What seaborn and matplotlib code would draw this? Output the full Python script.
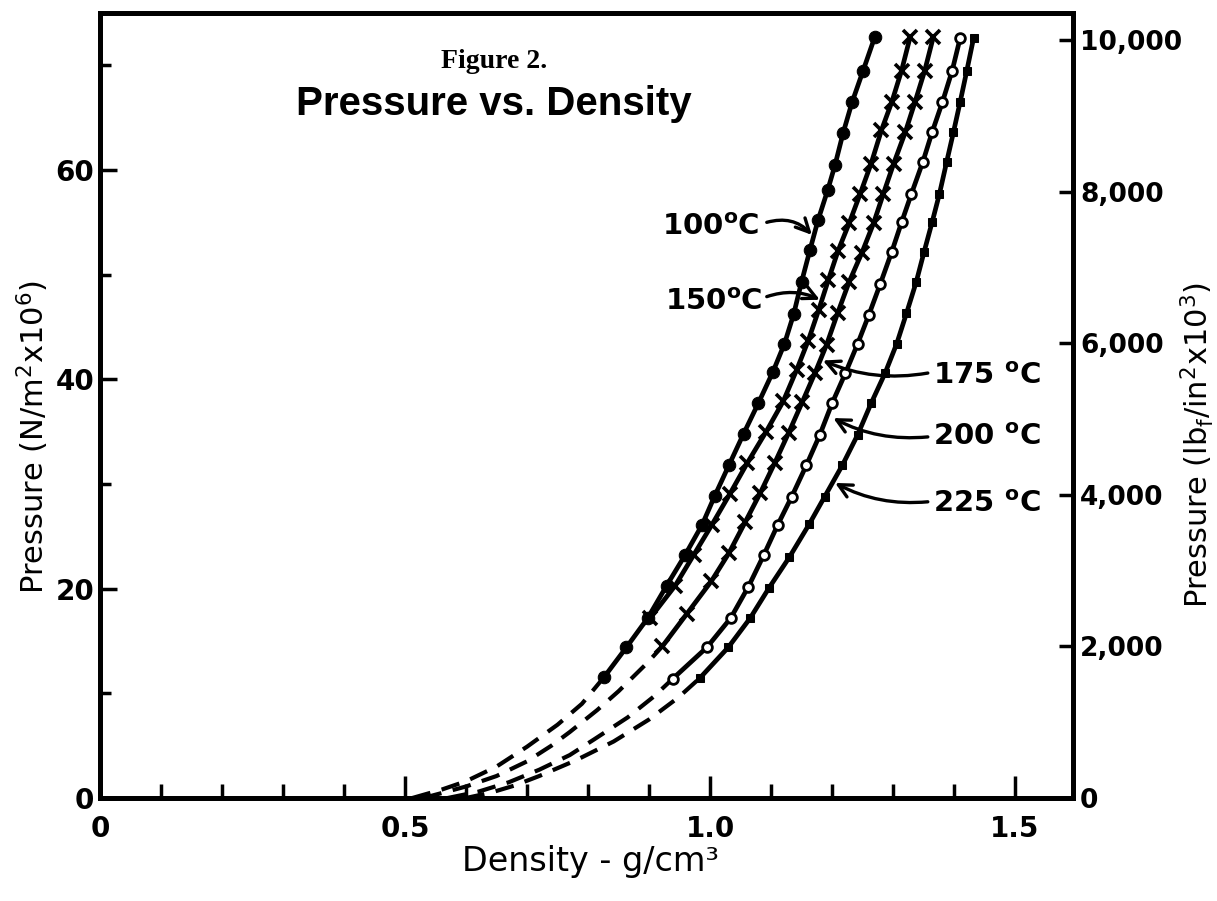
import matplotlib
matplotlib.use("Agg")
import matplotlib.pyplot as plt
import seaborn as sns
from matplotlib.ticker import MultipleLocator, FuncFormatter

# ----------------------------------------------------------
# Data (density g/cm3, pressure N/m2 x 1e6)
# ----------------------------------------------------------
dens_100 = [0.827, 0.863, 0.898, 0.929, 0.959, 0.987, 1.008, 1.031, 1.055, 1.079, 1.103,
            1.122, 1.137, 1.150, 1.164, 1.177, 1.193, 1.205, 1.218, 1.233, 1.251, 1.270]
pres_100 = [11.6, 14.4, 17.2, 20.3, 23.2, 26.1, 28.9, 31.8, 34.8, 37.7, 40.7,
            43.4, 46.2, 49.3, 52.4, 55.2, 58.1, 60.5, 63.5, 66.5, 69.5, 72.7]

dens_150 = [0.902, 0.943, 0.973, 1.003, 1.032, 1.061, 1.092, 1.120, 1.142, 1.161,
            1.178, 1.194, 1.210, 1.228, 1.246, 1.264, 1.281, 1.298, 1.314, 1.328]
pres_150 = [17.2, 20.3, 23.2, 26.1, 29.0, 32.0, 35.0, 37.9, 40.9, 43.7,
            46.6, 49.5, 52.3, 54.9, 57.7, 60.6, 63.8, 66.5, 69.5, 72.7]

dens_175 = [0.922, 0.962, 1.002, 1.031, 1.058, 1.082, 1.106, 1.129, 1.151, 1.172, 1.191,
            1.209, 1.228, 1.249, 1.268, 1.284, 1.301, 1.320, 1.336, 1.352, 1.366]
pres_175 = [14.5, 17.6, 20.7, 23.4, 26.4, 29.1, 32.0, 34.9, 37.8, 40.6, 43.3,
            46.3, 49.3, 52.1, 54.9, 57.7, 60.6, 63.6, 66.5, 69.5, 72.7]

dens_200 = [0.939, 0.995, 1.034, 1.063, 1.088, 1.111, 1.134, 1.158, 1.180, 1.200, 1.222,
            1.242, 1.260, 1.279, 1.298, 1.314, 1.330, 1.349, 1.364, 1.381, 1.397, 1.410]
pres_200 = [11.4, 14.4, 17.2, 20.2, 23.2, 26.1, 28.8, 31.8, 34.7, 37.7, 40.6,
            43.4, 46.1, 49.1, 52.2, 55.0, 57.7, 60.8, 63.6, 66.5, 69.5, 72.6]

dens_225 = [0.984, 1.030, 1.066, 1.097, 1.130, 1.163, 1.188, 1.217, 1.242, 1.264, 1.287,
            1.306, 1.322, 1.338, 1.351, 1.364, 1.376, 1.388, 1.399, 1.410, 1.421, 1.432]
pres_225 = [11.5, 14.4, 17.2, 20.1, 23.0, 26.2, 28.8, 31.8, 34.7, 37.7, 40.6,
            43.4, 46.3, 49.3, 52.2, 55.0, 57.7, 60.8, 63.6, 66.5, 69.5, 72.6]

# dashed (extrapolated) parts below the measured points
dash_dens_100 = [0.512, 0.56, 0.60, 0.65, 0.70, 0.75, 0.79, 0.827]
dash_pres_100 = [0.0, 0.8, 1.6, 3.0, 4.9, 7.0, 9.0, 11.6]
dash_dens_175 = [0.53, 0.60, 0.65, 0.70, 0.74, 0.77, 0.815, 0.85, 0.897, 0.922]
dash_pres_175 = [0.0, 1.1, 2.1, 3.5, 5.0, 6.3, 8.4, 10.2, 12.9, 14.5]
dash_dens_200 = [0.57, 0.62, 0.67, 0.72, 0.77, 0.81, 0.865, 0.908, 0.939]
dash_pres_200 = [0.0, 0.6, 1.5, 2.7, 4.1, 5.6, 7.7, 9.7, 11.4]
dash_dens_225 = [0.60, 0.64, 0.68, 0.72, 0.78, 0.842, 0.90, 0.948, 0.984]
dash_pres_225 = [0.0, 0.5, 1.2, 2.1, 3.6, 5.4, 7.5, 9.6, 11.5]

x_ticks = [0, 0.5, 1.0, 1.5]
psi_ticks = [0, 2000, 4000, 6000, 8000, 10000]
psi_top_in_mpa = 72.4   # where 10,000 psi sits on the left scale in the original

# ----------------------------------------------------------
# Style
# ----------------------------------------------------------
sns.set_theme(style="ticks")
plt.rcParams["font.family"] = ["DejaVu Sans"]
plt.rcParams["mathtext.fontset"] = "custom"
plt.rcParams["mathtext.rm"] = "DejaVu Sans"
plt.rcParams["mathtext.bf"] = "DejaVu Sans:bold"
plt.rcParams["mathtext.it"] = "DejaVu Sans:italic"
for key in ["text.color", "axes.labelcolor", "xtick.color", "ytick.color", "axes.edgecolor"]:
    plt.rcParams[key] = "black"

fig = plt.figure(figsize=(12.17, 9.01), dpi=100)
ax = fig.add_axes([100 / 1217, 1 - 798 / 901, 973 / 1217, 785 / 901])

LW = 3.4
dash = (0, (4.5, 2.8))

# dashed extensions
for dx, dy in [(dash_dens_100, dash_pres_100), (dash_dens_175, dash_pres_175),
               (dash_dens_200, dash_pres_200), (dash_dens_225, dash_pres_225)]:
    sns.lineplot(x=dx, y=dy, ax=ax, color="black", lw=3.0, linestyle=dash,
                 sort=False, estimator=None)

# measured curves
sns.lineplot(x=dens_100, y=pres_100, ax=ax, color="black", lw=LW, sort=False, estimator=None,
             marker="o", markersize=9, markerfacecolor="black", markeredgecolor="black")
sns.lineplot(x=dens_150, y=pres_150, ax=ax, color="black", lw=LW, sort=False, estimator=None,
             marker="x", markersize=10, markeredgewidth=2.6, markeredgecolor="black")
sns.lineplot(x=dens_175, y=pres_175, ax=ax, color="black", lw=LW, sort=False, estimator=None,
             marker="x", markersize=10, markeredgewidth=2.6, markeredgecolor="black")
sns.lineplot(x=dens_200, y=pres_200, ax=ax, color="black", lw=LW, sort=False, estimator=None,
             marker="o", markersize=7, markerfacecolor="white", markeredgecolor="black",
             markeredgewidth=2)
sns.lineplot(x=dens_225, y=pres_225, ax=ax, color="black", lw=LW, sort=False, estimator=None,
             marker="s", markersize=6, markerfacecolor="black", markeredgecolor="black")

# ----------------------------------------------------------
# Axes
# ----------------------------------------------------------
ax.set_xlim(0, 1.595)
ax.set_ylim(0, 75)
ax.set_xticks(x_ticks)
ax.xaxis.set_minor_locator(MultipleLocator(0.1))
ax.xaxis.set_major_formatter(FuncFormatter(lambda v, _: "0" if v == 0 else f"{v:.1f}"))
ax.yaxis.set_major_locator(MultipleLocator(20))
ax.yaxis.set_minor_locator(MultipleLocator(10))

ax.tick_params(axis="x", which="major", direction="in", length=16, width=2.5, pad=12,
               labelsize=20)
ax.tick_params(axis="x", which="minor", direction="in", length=10, width=2.5)
ax.tick_params(axis="y", which="major", direction="in", length=12, width=2.5, pad=4,
               labelsize=20)
ax.tick_params(axis="y", which="minor", direction="in", length=8, width=2.5)
for lab in ax.get_xticklabels() + ax.get_yticklabels():
    lab.set_fontweight("bold")

ax2 = ax.twinx()
ax2.set_ylim(0, 75 * 10000 / psi_top_in_mpa)
ax2.set_yticks(psi_ticks)
ax2.yaxis.set_major_formatter(FuncFormatter(lambda v, _: f"{v:,.0f}"))
ax2.tick_params(axis="y", direction="in", length=10, width=2.5, pad=5, labelsize=19)
for lab in ax2.get_yticklabels():
    lab.set_fontweight("bold")

for a in (ax, ax2):
    for sp in a.spines.values():
        sp.set_linewidth(3.5)
        sp.set_color("black")
        sp.set_visible(True)

ax.set_xlabel("Density - g/cm³", fontsize=24)
ax.xaxis.set_label_coords(0.504, -0.06)
ax.set_ylabel("Pressure (N/m$^{\\mathrm{2}}$x10$^{\\mathrm{6}}$)", fontsize=22)
ax.yaxis.set_label_coords(-0.05, 0.46)
ax2.set_ylabel("Pressure (lb$_{\\mathrm{f}}$/in$^{\\mathrm{2}}$x10$^{\\mathrm{3}}$)", fontsize=22)
ax2.yaxis.set_label_coords(1.108, 0.45)

# ----------------------------------------------------------
# Titles and curve labels
# ----------------------------------------------------------
fig.text(494 / 1217, 1 - 68 / 901, "Figure 2.", ha="center", va="baseline",
         fontsize=20, fontweight="bold", family="Liberation Serif")
fig.text(494 / 1217, 1 - 115 / 901, "Pressure vs. Density", ha="center", va="baseline",
         fontsize=29, fontweight="bold", family="Liberation Sans")

labels = [
    ("100$^{\\mathbf{o}}$C", 0.921, 53.8, (1.093, 55.0), (1.167, 53.8), -0.3),
    ("150$^{\\mathbf{o}}$C", 0.926, 46.6, (1.093, 47.9), (1.180, 47.6), -0.2),
    ("175 $^{\\mathbf{o}}$C", 1.366, 39.6, (1.357, 40.6), (1.185, 41.8), -0.15),
    ("200 $^{\\mathbf{o}}$C", 1.366, 33.7, (1.357, 34.5), (1.202, 36.3), -0.15),
    ("225 $^{\\mathbf{o}}$C", 1.366, 27.3, (1.357, 28.3), (1.205, 30.1), -0.15),
]
for text, tx, ty, start, tip, rad in labels:
    ax.text(tx, ty, text, ha="left", va="baseline", fontsize=21, fontweight="bold")
    ax.annotate("", xy=tip, xytext=start,
                arrowprops=dict(arrowstyle="->,head_length=0.8,head_width=0.4", lw=2.4,
                                color="black", shrinkA=0, shrinkB=0,
                                connectionstyle=f"arc3,rad={rad}"))

fig.savefig("out.png", dpi=100)
